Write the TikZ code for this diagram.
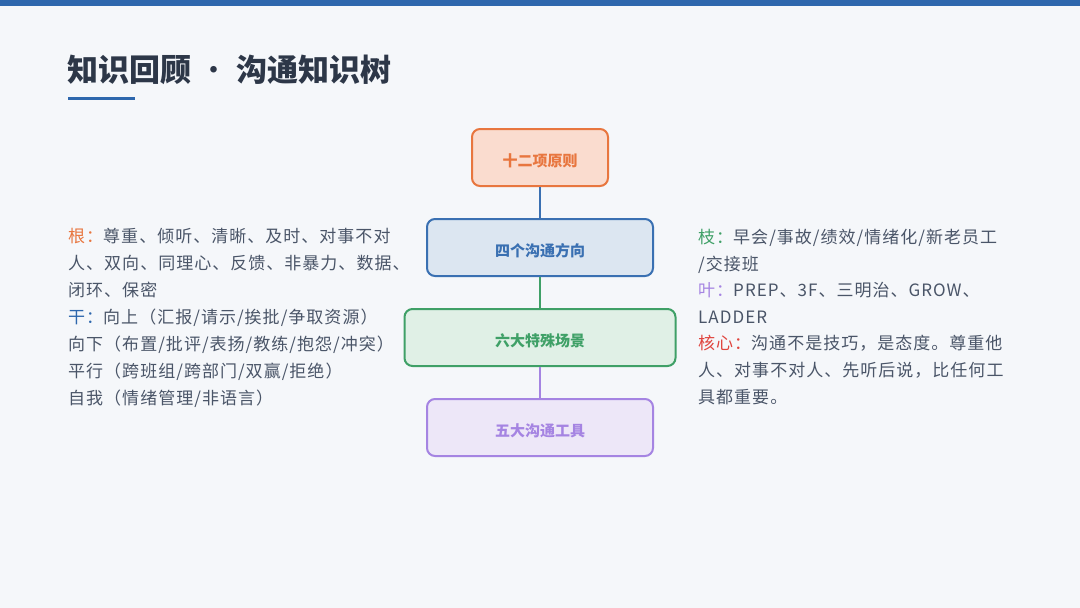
\documentclass[tikz,border=0pt]{standalone}
\usepackage{fontspec}
\setmainfont{Noto Sans CJK SC}
\newfontfamily\bodyfont[LetterSpace=6]{Noto Sans CJK SC}
\definecolor{bg}{HTML}{F5F7FA}
\definecolor{barblue}{HTML}{2E67AD}
\definecolor{titlec}{HTML}{2D3748}
\definecolor{bodyc}{HTML}{4A5568}
\definecolor{orangeb}{HTML}{E8763F}
\definecolor{orangef}{HTML}{FADCCF}
\definecolor{blueb}{HTML}{3A70B2}
\definecolor{bluef}{HTML}{DCE6F1}
\definecolor{greenb}{HTML}{3FA067}
\definecolor{greenf}{HTML}{E0F0E6}
\definecolor{purpleb}{HTML}{A584E2}
\definecolor{purplef}{HTML}{EDE7F8}
\definecolor{redc}{HTML}{E0443E}
\tikzset{
  box/.style={draw, line width=2pt, rounded corners=8pt, minimum height=57pt, font=\fontsize{15}{18}\selectfont\bfseries, inner sep=0pt, text height=18.6pt, text depth=0pt},
  line/.style={anchor=base west, inner sep=0pt, text=bodyc, font=\bodyfont\fontsize{17}{20}\selectfont},
  conn/.style={line width=2pt}
}
\begin{document}
\begin{tikzpicture}[x=1pt,y=-1pt]
\useasboundingbox (0,0) rectangle (1080,608);
\fill[bg] (0,0) rectangle (1080,608);
\fill[barblue] (0,0) rectangle (1080,6);
\node[anchor=west, inner sep=0pt, text=titlec, font=\fontsize{31}{36}\selectfont\bfseries] (title) at (67,70) {知识回顾 {\mdseries·} 沟通知识树};
\fill[barblue] (68,96.5) rectangle (135,100);

% boxes
\node[box, draw=orangeb, fill=orangef, text=orangeb, minimum width=136pt] (b1) at (540,157.5) {十二项原则};
\node[box, draw=blueb, fill=bluef, text=blueb, minimum width=226pt] (b2) at (540,247.5) {四个沟通方向};
\node[box, draw=greenb, fill=greenf, text=greenb, minimum width=271pt] (b3) at (540,337.5) {六大特殊场景};
\node[box, draw=purpleb, fill=purplef, text=purpleb, minimum width=226pt] (b4) at (540,427.5) {五大沟通工具};
\draw[conn, blueb] (b1.south) -- (b2.north);
\draw[conn, greenb] (b2.south) -- (b3.north);
\draw[conn, purpleb] (b3.south) -- (b4.north);

% left text
\node[line] (l1) at (68,242.5) {\textcolor{orangeb}{根：}尊重、倾听、清晰、及时、对事不对};
\node[line] (l2) at (68,269.5) {人、双向、同理心、反馈、非暴力、数据、};
\node[line] (l3) at (68,296.5) {闭环、保密};
\node[line] (l4) at (68,323.5) {\textcolor{barblue}{干：}向上（汇报/请示/挨批/争取资源）};
\node[line] (l5) at (68,350.5) {向下（布置/批评/表扬/教练/抱怨/冲突）};
\node[line] (l6) at (68,377.5) {平行（跨班组/跨部门/双赢/拒绝）};
\node[line] (l7) at (68,404.5) {自我（情绪管理/非语言）};

% right text
\node[line] (r1) at (698,243.5) {\textcolor{greenb}{枝：}早会/事故/绩效/情绪化/新老员工};
\node[line] (r2) at (698,270.5) {/交接班};
\node[line] (r3) at (698,296.5) {\textcolor{purpleb}{叶：}PREP、3F、三明治、GROW、};
\node[line] (r4) at (698,323.5) {LADDER};
\node[line] (r5) at (698,349.5) {\textcolor{redc}{核心：}沟通不是技巧，是态度。尊重他};
\node[line] (r6) at (698,376.5) {人、对事不对人、先听后说，比任何工};
\node[line] (r7) at (698,403.5) {具都重要。};
\end{tikzpicture}
\end{document}
